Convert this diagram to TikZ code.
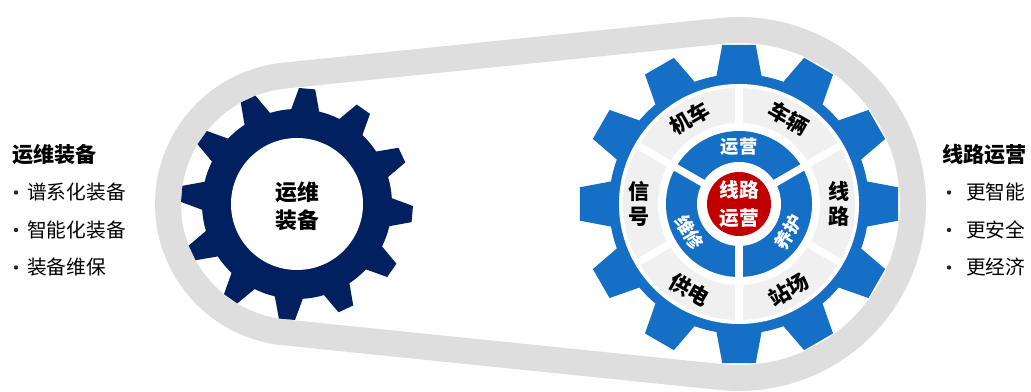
\documentclass[tikz,border=0pt]{standalone}
\usepackage{fontspec}
\setmainfont{Noto Sans CJK SC}
\usetikzlibrary{calc}

\definecolor{gearnavy}{RGB}{0,32,96}
\definecolor{gearblue}{RGB}{21,112,197}
\definecolor{beltgray}{RGB}{222,222,222}
\definecolor{seggray}{RGB}{240,240,240}
\definecolor{hubred}{RGB}{192,0,0}

\begin{document}
\begin{tikzpicture}[
    x=0.025cm, y=0.025cm,
    belt/.style={draw=beltgray, line width=6.5mm, line join=round},
    title/.style={anchor=west, inner sep=0pt, font=\fontsize{15}{18}\selectfont\bfseries},
    item/.style={anchor=west, inner sep=0pt, font=\fontsize{14}{17}\selectfont},
    dot/.style={circle, fill=black!85, inner sep=0pt, minimum size=1.1mm},
    gearlabel/.style={align=center, inner sep=0pt, font=\fontsize{15.5}{20}\selectfont\bfseries},
    seglabel/.style={align=center, inner sep=0pt, font=\fontsize{15}{18}\selectfont\bfseries},
    ringlabel/.style={text=white, inner sep=0pt, font=\fontsize{13}{15}\selectfont\bfseries},
    hublabel/.style={text=white, align=center, inner sep=0pt, font=\fontsize{14}{20}\selectfont\bfseries},
    gap/.style={draw=white, line width=1.8mm}
]
    \useasboundingbox (0,0) rectangle (1031,392);
    \clip (0,0) rectangle (1031,392);

    % belt round both gears
    \coordinate (lc) at (297,188);
    \coordinate (rc) at (739,188);
    \draw[belt] ($(lc)+(95.8:129)$) -- ($(rc)+(95.8:174)$)
        arc[start angle=95.8, end angle=-95.8, radius=174]
        -- ($(lc)+(-95.8:129)$)
        arc[start angle=264.2, end angle=95.8, radius=129] -- cycle;

    % left gear
    \begin{scope}[shift={(lc)}]
        \fill[gearnavy] (76.5:95) \foreach \a in {85,115,...,415} {
            -- (\a-8.5:95) -- (\a-4:116) -- (\a+4:116) -- (\a+8.5:95)
            arc[start angle=\a+8.5, end angle=\a+21.5, radius=95]} -- cycle;
        \fill[white] (0,0) circle[radius=66];
    \end{scope}
    \node[gearlabel] (equip) at (297,186) {运维\\装备};

    % right gear
    \begin{scope}[shift={(rc)}]
        \fill[gearblue] (80:130) \foreach \a in {90,120,...,420} {
            -- (\a-10:130) -- (\a-6:160) -- (\a+6:160) -- (\a+10:130)
            arc[start angle=\a+10, end angle=\a+20, radius=130]} -- cycle;
        \fill[white] (0,0) circle[radius=120];
        \fill[seggray] (0,0) circle[radius=116];
        \fill[white] (0,0) circle[radius=81];
        \foreach \a in {30,90,...,330}
            \draw[gap] (\a:79) -- (\a:118);
        \fill[gearblue] (0,0) circle[radius=73];
        \fill[white] (0,0) circle[radius=42];
        \foreach \a in {30,150,270}
            \draw[gap] (\a:40) -- (\a:75);
        \fill[hubred] (0,0) circle[radius=32];

        \node[seglabel, rotate=30] (jiche) at (120:99) {机车};
        \node[seglabel, rotate=-30] (cheliang) at (60:99) {车辆};
        \node[seglabel] (xianlu) at (0:100) {线\\路};
        \node[seglabel, rotate=30] (zhanchang) at (-60:99) {站场};
        \node[seglabel, rotate=-30] (gongdian) at (-120:99) {供电};
        \node[seglabel] (xinhao) at (180:100) {信\\号};

        \node[ringlabel] (yunying) at (90:57) {运营};
        \node[ringlabel, rotate=-60] (weixiu) at (210:57) {维修};
        \node[ringlabel, rotate=60] (yanghu) at (-30:57) {养护};
        \node[hublabel] (hub) at (0,0) {线路\\运营};
    \end{scope}

    % left list
    \node[title] (lefttitle) at (12,237) {运维装备};
    \foreach \t [count=\i] in {谱系化装备, 智能化装备, 装备维保} {
        \node[dot] (ldot\i) at (16,237-\i*37.5) {};
        \node[item] (litem\i) at (27,237-\i*37.5) {\t};
    }

    % right list
    \node[title] (righttitle) at (942,237) {线路运营};
    \foreach \t [count=\i] in {更智能, 更安全, 更经济} {
        \node[dot] (rdot\i) at (949,237-\i*37.5) {};
        \node[item] (ritem\i) at (966,237-\i*37.5) {\t};
    }
\end{tikzpicture}
\end{document}
